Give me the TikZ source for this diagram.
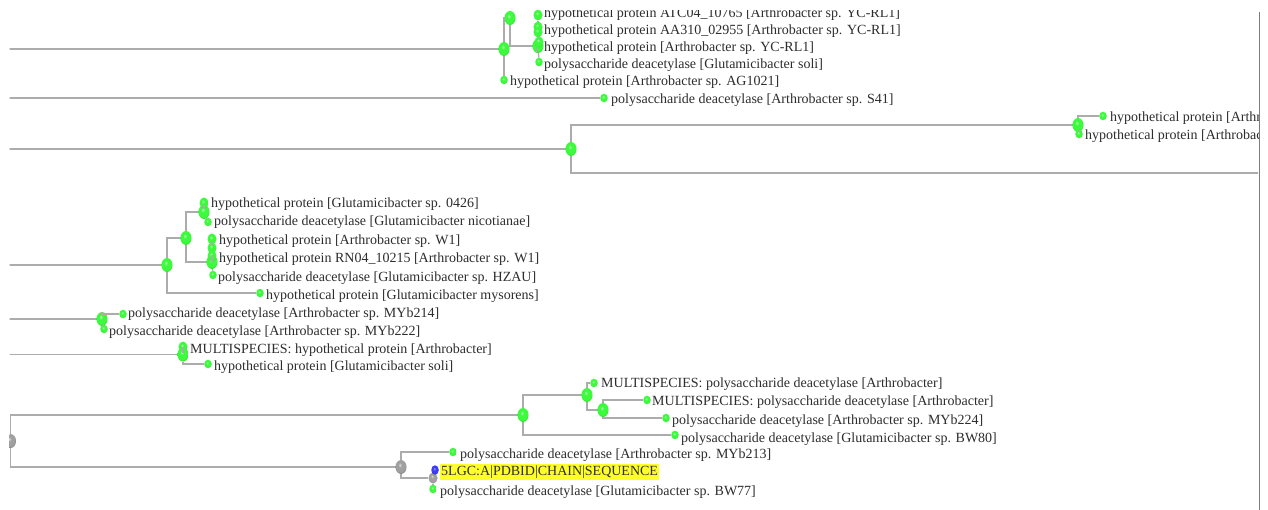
\documentclass[tikz,border=0pt]{standalone}
\usepackage{fontspec}
\setmainfont{Liberation Serif}
\usetikzlibrary{shapes.geometric}
\definecolor{ballg}{RGB}{60,250,60}
\definecolor{ballghi}{RGB}{200,255,200}
\definecolor{ballgdk}{RGB}{35,200,35}
\definecolor{ballgy}{RGB}{160,160,160}
\definecolor{ballgyhi}{RGB}{225,225,225}
\definecolor{ballgydk}{RGB}{100,100,100}
\definecolor{ballb}{RGB}{60,60,250}
\definecolor{ballbhi}{RGB}{175,175,255}
\definecolor{ballbdk}{RGB}{25,25,160}
\definecolor{linegray}{RGB}{172,172,172}
\definecolor{framegray}{RGB}{125,125,125}
\definecolor{txtgray}{RGB}{45,45,45}
\definecolor{hlyellow}{RGB}{255,255,40}
\pgfdeclareradialshading{gball}{\pgfqpoint{-6bp}{8bp}}{color(0bp)=(ballghi); color(8bp)=(ballg); color(22bp)=(ballg); color(32bp)=(ballgdk); color(50bp)=(ballgdk)}
\pgfdeclareradialshading{gyball}{\pgfqpoint{-6bp}{8bp}}{color(0bp)=(ballgyhi); color(8bp)=(ballgy); color(22bp)=(ballgy); color(32bp)=(ballgydk); color(50bp)=(ballgydk)}
\pgfdeclareradialshading{bball}{\pgfqpoint{-6bp}{8bp}}{color(0bp)=(ballbhi); color(8bp)=(ballb); color(22bp)=(ballb); color(32bp)=(ballbdk); color(50bp)=(ballbdk)}
\tikzset{
  edge/.style={draw=linegray, line width=1.3pt},
  frameline/.style={draw=framegray, line width=1pt},
  ballbase/.style={ellipse, inner sep=0pt, shade},
  inode/.style={ballbase, minimum width=11pt, minimum height=14pt, shading=gball},
  mnode/.style={ballbase, minimum width=9pt, minimum height=11pt, shading=gball},
  lnode/.style={ballbase, minimum width=7.5pt, minimum height=8.5pt, shading=gball},
  gyinode/.style={ballbase, minimum width=11pt, minimum height=14pt, shading=gyball},
  gymnode/.style={ballbase, minimum width=9pt, minimum height=11pt, shading=gyball},
  bnode/.style={ballbase, minimum width=7.5pt, minimum height=9.5pt, shading=bball},
  lab/.style={anchor=west, inner sep=0pt, text=txtgray, font=\fontsize{14pt}{16pt}\selectfont, text height=10pt, text depth=3pt},
  hilab/.style={lab, fill=hlyellow, inner xsep=1pt, inner ysep=1.5pt}
}
\begin{document}
\begin{tikzpicture}[x=1pt,y=-1pt]
\useasboundingbox (0,0) rectangle (1268,510);
\fill[white] (0,0) rectangle (1268,510);
\begin{scope}
\clip (9.5,11) rectangle (1258,511);
% ---------- group 1 ----------
\coordinate (s1) at (0,49);
\coordinate (s2) at (0,98);
\node[inode] (n1) at (504,49) {};
\node[inode] (n2) at (510,18) {};
\node[inode] (n3) at (538,46) {};
\node[mnode] (a1) at (538,15) {};
\node[mnode] (a2) at (538,27) {};
\node[mnode] (a3) at (538,32) {};
\node[mnode] (a4) at (539,42) {};
\node[lnode] (a5) at (539,62) {};
\node[lnode] (aAG) at (504,80) {};
\node[lnode] (aS41) at (604,98) {};
\draw[edge] (s1) -- (n1);
\draw[edge] (n1) |- (n2);
\draw[edge] (n1) -- (aAG);
\draw[edge] (n2) |- (n3);
\draw[edge] (n3) -- (a4);
\draw[edge] (a4) -- (a3);
\draw[edge] (a2) -- (a1);
\draw[edge] (n3) -- (a5);
\draw[edge] (s2) -- (aS41);
\node[lab] (t1) at (544,14.5) {hypothetical protein ATC04\_10765 [Arthrobacter sp. YC-RL1]};
\node[lab] (t2) at (544,31.5) {hypothetical protein AA310\_02955 [Arthrobacter sp. YC-RL1]};
\node[lab] (t3) at (544,48.5) {hypothetical protein [Arthrobacter sp. YC-RL1]};
\node[lab] (t4) at (544,65.5) {polysaccharide deacetylase [Glutamicibacter soli]};
\node[lab] (t5) at (510,82) {hypothetical protein [Arthrobacter sp. AG1021]};
\node[lab] (t6) at (611,100) {polysaccharide deacetylase [Arthrobacter sp. S41]};
% ---------- group 2 ----------
\coordinate (s3) at (0,149);
\coordinate (mR) at (1270,173);
\node[inode] (m1) at (571,149) {};
\node[inode] (m2) at (1078,125) {};
\node[lnode] (b1) at (1103,116) {};
\node[lnode] (b2) at (1079,134) {};
\draw[edge] (s3) -- (m1);
\draw[edge] (m1) |- (m2);
\draw[edge] (m1) |- (mR);
\draw[edge] (m2) |- (b1);
\draw[edge] (m2) -- (b2);
\node[lab] (t7) at (1110,118) {hypothetical protein [Arthrobacter};
\node[lab] (t8) at (1085,136) {hypothetical protein [Arthrobacter};
% ---------- group 3 ----------
\coordinate (s4) at (0,265);
\node[inode] (g1) at (167,265) {};
\node[inode] (g2) at (186,238) {};
\node[inode] (g3) at (204,212) {};
\node[mnode] (c1) at (204,203) {};
\node[lnode] (c2) at (208,222) {};
\node[inode] (g4) at (212,262) {};
\node[mnode] (d1) at (212,239) {};
\node[mnode] (d2) at (212,248) {};
\node[mnode] (d3) at (212,256) {};
\node[lnode] (d4) at (213,275) {};
\node[lnode] (dmy) at (260,293) {};
\draw[edge] (s4) -- (g1);
\draw[edge] (g1) |- (g2);
\draw[edge] (g1) |- (dmy);
\draw[edge] (g2) |- (g3);
\draw[edge] (g2) |- (g4);
\draw[edge] (g3) -- (c1);
\draw[edge] (g3) -- (c2);
\draw[edge] (g4) -- (d3);
\draw[edge] (d2) -- (d1);
\draw[edge] (g4) -- (d4);
\node[lab] (t9) at (211,204.5) {hypothetical protein [Glutamicibacter sp. 0426]};
\node[lab] (t10) at (214,222.5) {polysaccharide deacetylase [Glutamicibacter nicotianae]};
\node[lab] (t11) at (219,241.5) {hypothetical protein [Arthrobacter sp. W1]};
\node[lab] (t12) at (219,259.5) {hypothetical protein RN04\_10215 [Arthrobacter sp. W1]};
\node[lab] (t13) at (218,278.5) {polysaccharide deacetylase [Glutamicibacter sp. HZAU]};
\node[lab] (t14) at (266,296.5) {hypothetical protein [Glutamicibacter mysorens]};
% ---------- group 4 ----------
\coordinate (s5) at (0,319);
\node[inode] (h1) at (102,319) {};
\node[lnode] (e1) at (123,314) {};
\node[lnode] (e2) at (104,329) {};
\draw[edge] (s5) -- (h1);
\draw[edge] (h1) |- (e1);
\draw[edge] (h1) -- (e2);
\node[lab] (t15) at (128,314.5) {polysaccharide deacetylase [Arthrobacter sp. MYb214]};
\node[lab] (t16) at (109,331.5) {polysaccharide deacetylase [Arthrobacter sp. MYb222]};
% ---------- group 5 ----------
\coordinate (s6) at (0,354.5);
\node[mnode] (k0) at (183,347) {};
\node[inode] (k1) at (183,354.5) {};
\node[lnode] (f1) at (208,364) {};
\draw[edge] (s6) -- (k1);
\draw[edge] (k1) -- (k0);
\draw[edge] (k1) |- (f1);
\node[lab] (t17) at (190,349.5) {MULTISPECIES: hypothetical protein [Arthrobacter]};
\node[lab] (t18) at (214,366.5) {hypothetical protein [Glutamicibacter soli]};
% ---------- group 6 ----------
\node[gyinode] (r) at (10.5,441) {};
\node[inode] (p1) at (523,415) {};
\node[gyinode] (q1) at (401,467) {};
\node[inode] (p2) at (587,395) {};
\node[inode] (p3) at (603,410) {};
\node[lnode] (lM1) at (594,383) {};
\node[lnode] (lM2) at (647,400) {};
\node[lnode] (lM224) at (666,418) {};
\node[lnode] (lBW80) at (675,435) {};
\node[lnode] (lM213) at (453,452) {};
\node[gymnode] (q2) at (433,478) {};
\node[bnode] (lPDB) at (435,470) {};
\node[lnode] (lBW77) at (433,489) {};
\draw[edge] (r) |- (p1);
\draw[edge] (r) |- (q1);
\draw[edge] (p1) |- (p2);
\draw[edge] (p1) |- (lBW80);
\draw[edge] (p2) |- (lM1);
\draw[edge] (p2) |- (p3);
\draw[edge] (p3) |- (lM2);
\draw[edge] (p3) |- (lM224);
\draw[edge] (q1) |- (lM213);
\draw[edge] (q1) |- (q2);
\draw[edge] (q2) -- (lBW77);
\node[lab] (t19) at (601,383.5) {MULTISPECIES: polysaccharide deacetylase [Arthrobacter]};
\node[lab] (t20) at (652,401.5) {MULTISPECIES: polysaccharide deacetylase [Arthrobacter]};
\node[lab] (t21) at (672,420.5) {polysaccharide deacetylase [Arthrobacter sp. MYb224]};
\node[lab] (t22) at (681,438.5) {polysaccharide deacetylase [Glutamicibacter sp. BW80]};
\node[lab] (t23) at (460,454.5) {polysaccharide deacetylase [Arthrobacter sp. MYb213]};
\node[hilab] (t24) at (440,472) {5LGC:A|PDBID|CHAIN|SEQUENCE};
\node[lab] (t25) at (440,491.5) {polysaccharide deacetylase [Glutamicibacter sp. BW77]};
\end{scope}
\coordinate (fr1) at (1259,12);
\coordinate (fr2) at (1259,510);
\draw[frameline] (fr1) -- (fr2);
\end{tikzpicture}
\end{document}
